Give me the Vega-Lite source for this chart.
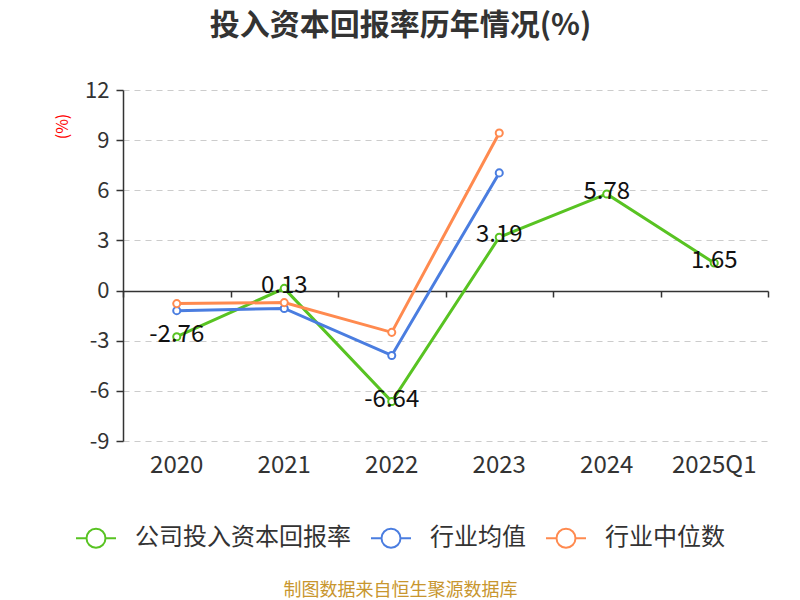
{
  "$schema": "https://vega.github.io/schema/vega-lite/v6.json",
  "autosize": {"type": "none"},
  "padding": {"left": 123, "top": 90, "right": 32, "bottom": 159},
  "width": 645,
  "height": 351,
  "background": "white",
  "title": {
    "text": "投入资本回报率历年情况(%)",
    "font": "Noto Sans CJK SC",
    "fontSize": 30,
    "fontWeight": "bold",
    "color": "#333333",
    "anchor": "middle",
    "dx": -45,
    "offset": 38
  },
  "data": {
    "values": [
      {"year": "2020", "series": "公司投入资本回报率", "value": -2.76},
      {"year": "2021", "series": "公司投入资本回报率", "value": 0.13},
      {"year": "2022", "series": "公司投入资本回报率", "value": -6.64},
      {"year": "2023", "series": "公司投入资本回报率", "value": 3.19},
      {"year": "2024", "series": "公司投入资本回报率", "value": 5.78},
      {"year": "2025Q1", "series": "公司投入资本回报率", "value": 1.65},
      {"year": "2020", "series": "行业均值", "value": -1.2},
      {"year": "2021", "series": "行业均值", "value": -1.07},
      {"year": "2022", "series": "行业均值", "value": -3.88},
      {"year": "2023", "series": "行业均值", "value": 7.04},
      {"year": "2020", "series": "行业中位数", "value": -0.78},
      {"year": "2021", "series": "行业中位数", "value": -0.72},
      {"year": "2022", "series": "行业中位数", "value": -2.5},
      {"year": "2023", "series": "行业中位数", "value": 9.43}
    ]
  },
  "encoding": {
    "x": {
      "field": "year",
      "type": "nominal",
      "sort": null,
      "scale": {"type": "band", "paddingInner": 0, "paddingOuter": 0}
    },
    "y": {
      "field": "value",
      "type": "quantitative",
      "scale": {"domain": [-9, 12], "nice": false, "zero": false},
      "axis": {
        "title": "(%)",
        "titleColor": "#ff0000",
        "titleFont": "Noto Sans CJK SC",
        "titleFontSize": 16,
        "titleFontWeight": "normal",
        "titleX": -61,
        "titleY": 36,
        "titleAlign": "center",
        "titleBaseline": "middle",
        "titleAngle": -90,
        "values": [-9, -6, -3, 0, 3, 6, 9, 12],
        "labelFont": "Noto Sans CJK SC",
        "labelFontSize": 22,
        "labelColor": "#333333",
        "labelPadding": 7,
        "domainColor": "#333333",
        "domainWidth": 1.5,
        "tickColor": "#333333",
        "tickWidth": 1.5,
        "tickSize": 7,
        "grid": true,
        "gridColor": "#cccccc",
        "gridDash": [6, 5],
        "gridWidth": 1.2
      }
    }
  },
  "layer": [
    {
      "mark": {"type": "line", "strokeWidth": 3},
      "encoding": {
        "x": {
          "field": "year",
          "type": "nominal",
          "sort": null,
          "axis": {
            "orient": "bottom",
            "domain": false,
            "ticks": false,
            "grid": false,
            "labelAngle": 0,
            "labelFont": "Noto Sans CJK SC",
            "labelFontSize": 24,
            "labelColor": "#333333",
            "labelPadding": 12,
            "title": "制图数据来自恒生聚源数据库",
            "titleFont": "Noto Sans CJK SC",
            "titleFontSize": 18,
            "titleFontWeight": "normal",
            "titleColor": "#c8962e",
            "titleX": 277,
            "titleY": 149,
            "titleAlign": "center",
            "titleBaseline": "middle"
          }
        },
        "color": {
          "field": "series",
          "type": "nominal",
          "scale": {
            "domain": ["公司投入资本回报率", "行业均值", "行业中位数"],
            "range": ["#58c322", "#4a7de0", "#ff8a4f"]
          },
          "legend": {
            "orient": "none",
            "legendX": -48,
            "legendY": 427,
            "direction": "horizontal",
            "title": null,
            "symbolType": "M-1,0L-0.475,0M0.475,0L1,0M-0.475,0A0.475,0.475 0 1,1 0.475,0A0.475,0.475 0 1,1 -0.475,0",
            "symbolSize": 1600,
            "symbolStrokeWidth": 2,
            "symbolFillColor": "white",
            "labelFont": "Noto Sans CJK SC",
            "labelFontSize": 24,
            "labelColor": "#333333",
            "labelOffset": 18,
            "labelLimit": 400,
            "columnPadding": 16
          }
        }
      }
    },
    {
      "mark": {"type": "point", "filled": true, "fill": "white", "opacity": 1, "size": 50, "strokeWidth": 2},
      "encoding": {
        "x": {
          "field": "year",
          "type": "nominal",
          "sort": null,
          "axis": {
            "orient": "bottom",
            "offset": -150,
            "labels": false,
            "title": null,
            "grid": false,
            "domain": true,
            "domainColor": "#333333",
            "domainWidth": 1.5,
            "ticks": true,
            "tickBand": "extent",
            "tickColor": "#333333",
            "tickWidth": 1.5,
            "tickSize": 6
          }
        },
        "stroke": {
          "field": "series",
          "type": "nominal",
          "legend": null,
          "scale": {
            "domain": ["公司投入资本回报率", "行业均值", "行业中位数"],
            "range": ["#58c322", "#4a7de0", "#ff8a4f"]
          }
        }
      }
    },
    {
      "transform": [{"filter": "datum.series === '公司投入资本回报率'"}],
      "mark": {"type": "text", "font": "Noto Sans CJK SC", "fontSize": 24, "color": "#111111", "baseline": "middle", "dy": -2},
      "encoding": {
        "x": {"field": "year", "type": "nominal", "sort": null, "axis": null},
        "text": {"field": "value", "type": "quantitative", "format": ".2f"}
      }
    }
  ],
  "resolve": {"axis": {"x": "independent"}},
  "config": {
    "view": {"stroke": null},
    "locale": {
      "number": {
        "decimal": ".",
        "thousands": ",",
        "grouping": [3],
        "currency": ["", ""],
        "minus": "-"
      }
    }
  }
}
